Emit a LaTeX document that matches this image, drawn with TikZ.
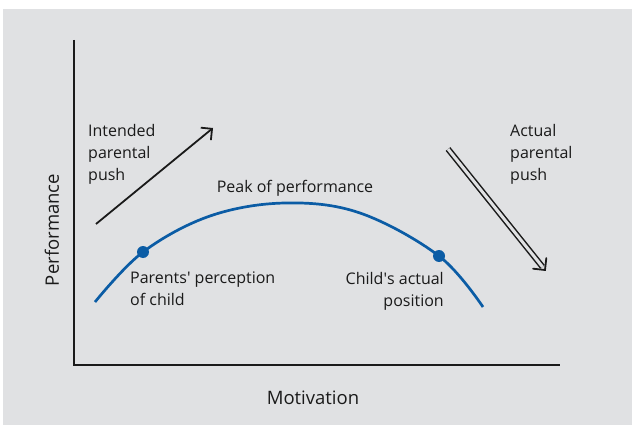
\documentclass[tikz,border=0pt]{standalone}
\usepackage{fontspec}
\setmainfont{Open Sans}
\usetikzlibrary{calc,arrows.meta}

\definecolor{panelgray}{HTML}{E0E1E3}
\definecolor{curveblue}{HTML}{0B5CA5}
\definecolor{inkblack}{HTML}{1A1A1A}

\tikzset{
  axis/.style={draw=inkblack,line width=1.8pt},
  push/.style={draw=inkblack,line width=1.8pt},
  curve/.style={draw=curveblue,line width=2.7pt},
  spot/.style={circle,fill=curveblue,inner sep=0pt,minimum size=12pt},
  lbl/.style={font=\fontsize{16}{22}\selectfont,text=inkblack,inner sep=0pt},
  axislbl/.style={lbl,font=\fontsize{18.5}{22}\selectfont},
}

\begin{document}
\begin{tikzpicture}[x=1pt,y=-1pt]
  \useasboundingbox (0,0) rectangle (632,425);
  \fill[panelgray] (3,9) rectangle (632,425);

  % axes
  \coordinate (ytop) at (74,40);
  \coordinate (origin) at (74,365);
  \coordinate (xend) at (560,365);
  \draw[axis] (ytop) -- (origin) -- (xend);
  \node[axislbl,rotate=90] (perf) at (52,230) {Performance};
  \node[axislbl] (motiv) at (313,398) {Motivation};

  % the performance curve and the two points on it
  \draw[curve] plot[smooth,tension=0.6] coordinates
    {(95,302) (143,252) (210,216) (285,203) (360,213) (439,256) (483,307)};
  \node[spot] (parents) at (143,252) {};
  \node[spot] (child) at (439,256) {};

  \node[lbl,anchor=base] (peak) at (295,193) {Peak of performance};
  \node[lbl,align=left,anchor=north west] (perception) at (130,272)
    {Parents\textquotesingle\ perception\\of child};
  \node[lbl,align=right,anchor=north east] (position) at (444,272)
    {Child\textquotesingle s actual\\position};

  % intended push: single arrow
  \node[lbl,align=left,anchor=north west] (intended) at (88,124)
    {Intended\\parental\\push};
  \coordinate (ipush0) at (96,224);
  \coordinate (ipush1) at (213,128);
  \draw[push,-{Straight Barb[length=8pt,width=16pt]}] (ipush0) -- (ipush1);

  % actual push: double arrow with an open head
  \node[lbl,align=left,anchor=north west] (actual) at (510,124)
    {Actual\\parental\\push};
  \coordinate (apush0) at (448,149);
  \coordinate (apush1) at (545,270);
  \draw[push,line width=1.5pt,double=panelgray,double distance=3pt,shorten >=4pt]
    (apush0) -- (apush1);
  \draw[push,line cap=round]
    ($(apush1)!12pt!45:(apush0)$) -- (apush1) -- ($(apush1)!12pt!-45:(apush0)$);
\end{tikzpicture}
\end{document}
